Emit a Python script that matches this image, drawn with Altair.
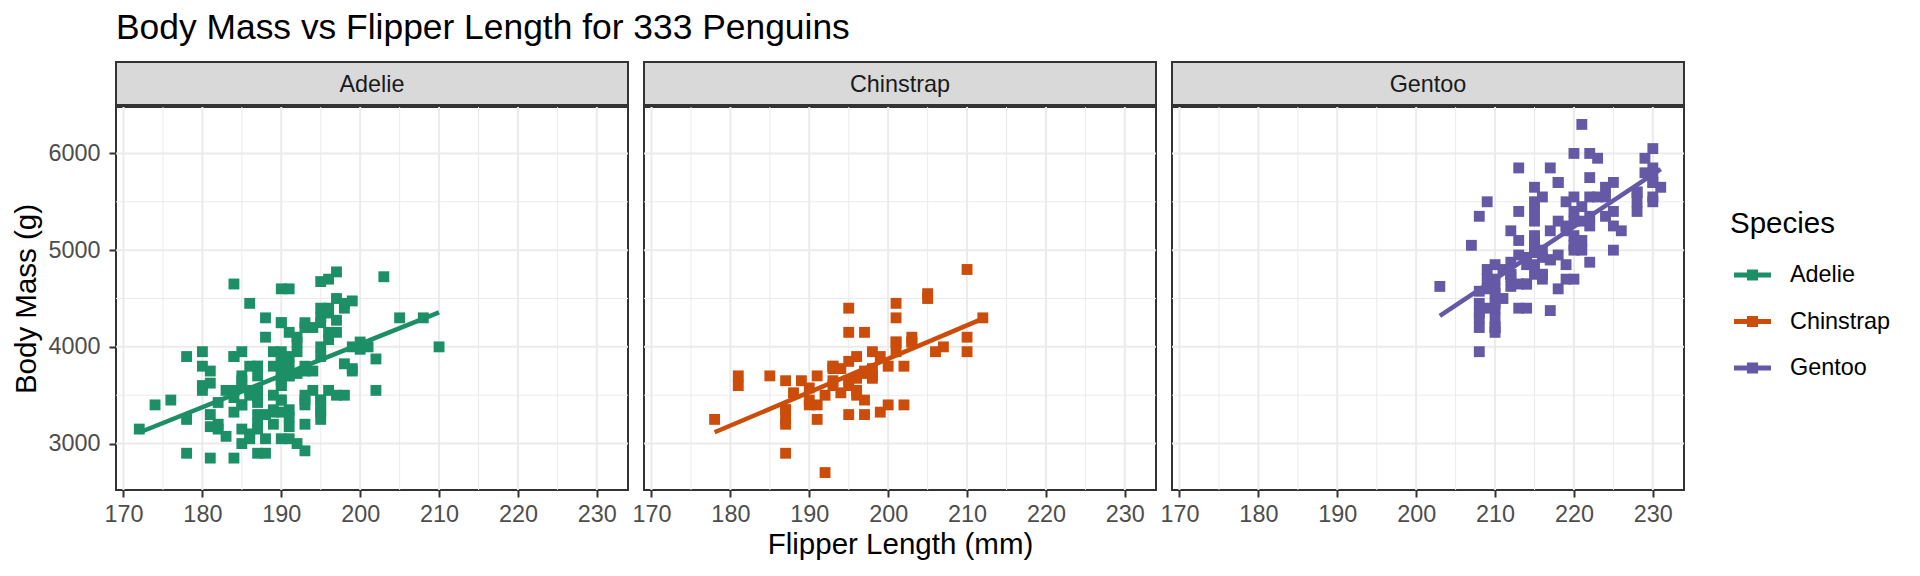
import altair as alt
import pandas as pd

# ---------------- data ----------------
species_names = ["Adelie", "Chinstrap", "Gentoo"]
species_colors = ["#1D8F66", "#CC4C0A", "#6559A6"]

adelie_flipper = [181,186,195,193,190,181,195,182,191,198,
                  185,195,197,184,194,174,180,189,185,180,
                  187,183,187,172,180,178,178,188,184,195,
                  196,190,180,181,184,182,195,186,196,185,
                  190,182,190,191,186,188,190,200,187,191,
                  186,193,181,194,185,195,185,192,184,192,
                  195,188,190,198,190,190,196,197,190,195,
                  191,184,187,195,189,196,187,193,191,194,
                  190,189,189,190,202,205,185,186,187,208,
                  190,196,178,192,192,203,183,190,193,184,
                  199,190,181,197,198,191,193,197,191,196,
                  188,199,189,189,187,198,176,202,186,199,
                  191,195,191,210,190,197,193,199,187,190,
                  191,200,185,193,193,187,188,190,192,185,
                  190,184,195,193,187,201]
adelie_mass = [3750,3800,3250,3450,3650,3625,4675,3200,3800,4400,
               3700,3450,4500,3325,4200,3400,3600,3800,3950,3800,
               3800,3550,3200,3150,3950,3250,3900,3300,3900,3325,
               4150,3950,3550,3300,4650,3150,3900,3100,4400,3000,
               4600,3425,3450,4150,3500,4300,3450,4050,2900,3700,
               3550,3800,2850,3750,3150,4400,3600,4050,2850,3950,
               3350,4100,3050,4450,3600,3900,3550,4150,3700,4250,
               3700,3900,3550,4000,3200,4700,3800,4200,3350,3550,
               3800,3500,3950,3600,3550,4300,3400,4450,3300,4300,
               3700,4350,2900,4100,3725,4725,3075,4250,2925,3550,
               3750,3900,3175,4775,3825,4600,3200,4275,3900,4075,
               2900,3775,3350,3325,3150,3500,3450,3875,3050,4000,
               3275,4300,3050,4000,3325,3500,3500,4475,3425,3900,
               3175,3975,3400,4250,3400,3475,3050,3725,3000,3650,
               4250,3475,3450,3750,3700,4000]

chinstrap_flipper = [192,196,193,188,197,198,178,197,195,198,
                     193,194,185,201,190,201,197,181,190,195,
                     181,191,187,193,195,197,200,200,191,205,
                     187,201,187,203,195,199,195,210,192,205,
                     210,187,196,196,196,201,190,212,187,198,
                     199,201,193,203,187,197,191,203,202,194,
                     206,189,195,207,202,193,210,198]
chinstrap_mass = [3500,3900,3650,3525,3725,3950,3250,3750,4150,3700,
                  3800,3775,3700,4050,3575,4050,3300,3700,3450,4400,
                  3600,3400,2900,3800,3300,4150,3400,3800,3700,4550,
                  3200,4300,3350,4100,3600,3900,3850,4800,2700,4500,
                  3950,3650,3550,3500,3675,4450,3400,4300,3250,3675,
                  3325,3950,3600,4050,3350,3450,3250,4050,3800,3525,
                  3950,3650,3650,4000,3400,3775,4100,3775]

gentoo_flipper = [211,230,210,218,215,210,211,219,209,215,
                  214,216,214,213,210,217,210,221,209,222,
                  218,215,213,215,215,215,215,210,220,222,
                  209,207,230,220,220,213,219,208,208,208,
                  225,210,216,222,217,210,225,213,215,210,
                  220,210,225,217,220,208,220,208,224,208,
                  221,214,231,219,230,229,220,223,216,221,
                  221,217,216,230,209,220,215,223,212,221,
                  212,224,212,228,218,218,212,230,218,228,
                  212,224,214,226,216,222,203,225,219,228,
                  215,228,215,210,219,208,209,216,229,213,
                  230,217,230,222,214,215,222,212,213]
gentoo_mass = [4500,5700,4450,5700,5400,4550,4800,5200,4400,5150,
               4650,5550,4650,5850,4200,5850,4150,6300,4800,5350,
               5700,5000,4400,5050,5000,5100,5650,4600,5550,5250,
               4700,5050,6050,5150,5400,4950,5250,4350,5350,3950,
               5700,4300,4750,5550,4900,4200,5400,5100,5300,4850,
               5300,4400,5000,4900,5050,4300,5000,4450,5550,4200,
               5300,4400,5650,4700,5700,5800,4700,5550,4750,5000,
               5100,5200,4700,5800,4600,6000,4750,5950,4625,5450,
               4725,5350,4750,5600,4600,5300,4875,5550,4950,5400,
               4750,5650,4850,5200,4925,4875,4625,5250,4850,5600,
               4975,5500,5500,4700,5500,4575,5500,5000,5950,4650,
               5500,4375,5850,6000,4925,4850,5750,5200,5400]

x_major = [170, 180, 190, 200, 210, 220, 230]
x_minor = [175, 185, 195, 205, 215, 225]
y_major = [3000, 4000, 5000, 6000]
y_minor = [3500, 4500, 5500]

title_text = "Body Mass vs Flipper Length for 333 Penguins"
x_title = "Flipper Length (mm)"
y_title = "Body Mass (g)"
legend_title = "Species"

# ---------------- table ----------------
flippers = {"Adelie": adelie_flipper, "Chinstrap": chinstrap_flipper, "Gentoo": gentoo_flipper}
masses = {"Adelie": adelie_mass, "Chinstrap": chinstrap_mass, "Gentoo": gentoo_mass}
frames = []
for s in species_names:
    frames.append(pd.DataFrame({"species": s, "flipper": flippers[s], "mass": masses[s]}))
df = pd.concat(frames, ignore_index=True)

# ---------------- styling ----------------
FONT = "Liberation Sans"
W, H = 512, 383
X_DOMAIN = [169.05, 233.95]
Y_DOMAIN = [2520, 6480]
GRID = "#EBEBEB"
DARK = "#333333"
SMALL = 23.4
MID = 29.5
BIG = 35.4

LEGEND_PATH = ("M-1,-0.13L1,-0.13L1,0.13L-1,0.13Z "
               "M-0.3,-0.3L0.3,-0.3L0.3,0.3L-0.3,0.3Z")


def panel(idx, name):
    xs = alt.Scale(domain=X_DOMAIN, nice=False, zero=False)
    ys = alt.Scale(domain=Y_DOMAIN, nice=False, zero=False)

    x_axis_kw = dict(values=x_major, format="d", grid=False, domain=False,
                     tickColor=DARK, tickWidth=2, tickSize=7,
                     labelColor="#4D4D4D", labelFontSize=SMALL, labelFont=FONT,
                     labelPadding=6, labelFlush=False, titleFontSize=MID,
                     titleFont=FONT, titleColor="black",
                     titleFontWeight="normal", titlePadding=5)
    if idx == 1:
        x_axis = alt.Axis(title=x_title, **x_axis_kw)
    else:
        x_axis = alt.Axis(title=None, **x_axis_kw)

    if idx == 0:
        y_axis = alt.Axis(values=y_major, format="d", grid=False, domain=False,
                          tickColor=DARK, tickWidth=2, tickSize=7,
                          labelColor="#4D4D4D", labelFontSize=SMALL,
                          labelFont=FONT, labelPadding=9, title=y_title,
                          titleFontSize=MID, titleFont=FONT,
                          titleColor="black", titleFontWeight="normal",
                          titlePadding=6)
    else:
        y_axis = None

    legend = alt.Legend(title=legend_title, orient="none", legendX=1614,
                        legendY=103, padding=0, titleFontSize=MID,
                        titleFont=FONT, titleFontWeight="normal",
                        titleColor="black", titlePadding=17,
                        labelFontSize=SMALL, labelFont=FONT,
                        labelColor="black", symbolType=LEGEND_PATH,
                        symbolSize=1369, symbolStrokeWidth=0,
                        symbolOffset=4, labelOffset=19, rowPadding=16.5)
    color = alt.Color("species:N",
                      scale=alt.Scale(domain=species_names, range=species_colors),
                      legend=legend)

    def X(field):
        return alt.X(field, scale=xs, axis=x_axis)

    def Y(field):
        return alt.Y(field, scale=ys, axis=y_axis)

    gx_min = alt.Chart(pd.DataFrame({"v": x_minor})).mark_rule(
        color=GRID, strokeWidth=1).encode(x=X("v:Q"))
    gx_maj = alt.Chart(pd.DataFrame({"v": x_major})).mark_rule(
        color=GRID, strokeWidth=2).encode(x=X("v:Q"))
    gy_min = alt.Chart(pd.DataFrame({"v": y_minor})).mark_rule(
        color=GRID, strokeWidth=1).encode(y=Y("v:Q"))
    gy_maj = alt.Chart(pd.DataFrame({"v": y_major})).mark_rule(
        color=GRID, strokeWidth=2).encode(y=Y("v:Q"))

    strip_df = pd.DataFrame({"label": [name]})
    strip = alt.Chart(strip_df).mark_rect(
        fill="#D9D9D9", stroke=DARK, strokeWidth=2).encode(
        x=alt.value(0), x2=alt.value(W), y=alt.value(-45), y2=alt.value(-2))
    strip_txt = alt.Chart(strip_df).mark_text(
        font=FONT, fontSize=SMALL, color="#1A1A1A", align="center",
        baseline="alphabetic").encode(
        x=alt.value(W / 2), y=alt.value(-15), text="label:N")

    sub = df[df["species"] == name]
    pts = alt.Chart(sub).mark_square(size=118, opacity=1, filled=True).encode(
        x=X("flipper:Q"), y=Y("mass:Q"), color=color)
    line = alt.Chart(sub).transform_regression(
        "flipper", "mass", groupby=["species"]).mark_line(strokeWidth=4.5).encode(
        x=X("flipper:Q"), y=Y("mass:Q"), color=color)

    return alt.layer(gx_min, gx_maj, gy_min, gy_maj, strip, strip_txt, pts, line).properties(
        width=W, height=H)


panels = [panel(i, s) for i, s in enumerate(species_names)]

chart = alt.hconcat(*panels, spacing=16, bounds="flush").resolve_scale(
    color="shared").properties(
    title=alt.TitleParams(title_text, anchor="start", frame="group",
                          fontSize=BIG, font=FONT, fontWeight="normal",
                          color="black", offset=14),
    autosize=alt.AutoSizeParams(type="none"),
    padding={"left": 108, "top": 99, "right": 1796, "bottom": 461},
).configure_view(stroke=DARK, strokeWidth=2)

chart.save("out.html", embed_options={"renderer": "svg", "actions": False})
